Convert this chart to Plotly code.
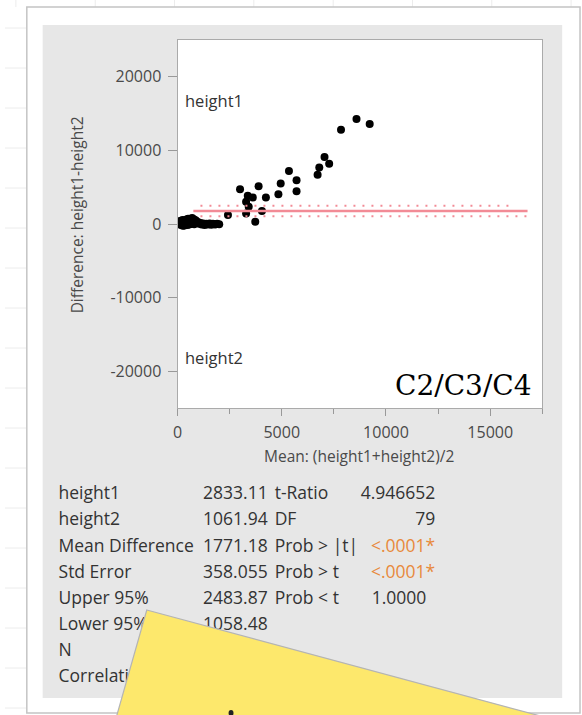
import plotly.graph_objects as go

W, H = 582, 715

# ---------------- data ----------------
cluster_mean = [60, 90, 120, 150, 170, 200, 220, 250, 280, 300,
                320, 350, 380, 400, 430, 460, 480, 510, 540, 570,
                600, 630, 660, 700, 740, 780, 820, 870, 920, 980,
                1040, 1100, 1160, 1230, 1300, 1380, 1460, 1540, 1620, 1700,
                1800, 1900, 2000, 110, 180, 240, 330, 410, 490, 560,
                650, 720, 800, 260, 360, 450, 540]
cluster_diff = [120, -50, 250, 80, 350, -100, 200, 420, 60, 300,
                150, 500, -80, 260, 620, 120, 380, 700, 230, 450,
                -30, 550, 300, 820, 400, 650, 200, 500, 150, 280,
                50, 120, -60, 80, -120, 30, -80, 60, -100, 20,
                -60, 40, -20, 400, -150, 550, -200, 100, -120, 600,
                100, 200, -50, -250, 200, -20, 350]
upper_mean = [8586, 9218, 7843, 7052, 7275, 6800, 6720, 5346, 5710, 5710,
              4950, 4840, 4240, 3890, 3000, 3370, 3610, 3290, 3415, 3290,
              4050, 3730, 2420]
upper_diff = [14280, 13600, 12800, 9100, 8200, 7660, 6700, 7200, 5950, 4460,
              5500, 4050, 3600, 5135, 4730, 3830, 3600, 3020, 2340, 1440,
              1760, 310, 1220]

mean_diff = 1771.18
upper95 = 2483.87
lower95 = 1058.48
line_x_solid = [760, 16790]
line_x_upper = [1100, 16120]
line_x_lower = [1100, 16790]

x_tickvals = [0, 5000, 10000, 15000]
x_ticktext = ["0", "5000", "10000", "15000"]
y_tickvals = [-20000, -10000, 0, 10000, 20000]
y_ticktext = ["-20000", "-10000", "0", "10000", "20000"]

stat_labels = ["height1", "height2", "Mean Difference", "Std Error",
               "Upper 95%", "Lower 95%", "N", "Correlation"]
stat_values = ["2833.11", "1061.94", "1771.18", "358.055",
               "2483.87", "1058.48", "80", ""]
test_labels = ["t-Ratio", "DF", "Prob > |t|", "Prob > t", "Prob < t"]
test_values = ["4.946652", "79", "<.0001*", "<.0001*", "1.0000"]
test_colors = ["#333333", "#333333", "#E8893C", "#E8893C", "#333333"]

# ---------------- layout helpers ----------------
def px(x):
    return x / W

def py(y):
    return 1 - y / H

PLOT_L, PLOT_R, PLOT_T, PLOT_B = 174, 542, 40, 408
FONT = "Open Sans, Noto Sans, sans-serif"
TXT = "#333333"
AX = "#4a4a4a"

fig = go.Figure()

# scatter points
fig.add_trace(go.Scatter(
    x=cluster_mean + upper_mean, y=cluster_diff + upper_diff,
    mode="markers", marker=dict(size=8, color="black"),
    xaxis="x", yaxis="y", showlegend=False, hoverinfo="skip"))

# reference lines
red = "#F28B96"
fig.add_trace(go.Scatter(x=line_x_solid, y=[mean_diff, mean_diff], mode="lines",
                         line=dict(color=red, width=2.5), showlegend=False,
                         xaxis="x", yaxis="y", hoverinfo="skip"))
fig.add_trace(go.Scatter(x=line_x_upper, y=[upper95, upper95], mode="lines",
                         line=dict(color=red, width=2, dash="2px,7px"), showlegend=False,
                         xaxis="x", yaxis="y", hoverinfo="skip"))
fig.add_trace(go.Scatter(x=line_x_lower, y=[lower95, lower95], mode="lines",
                         line=dict(color=red, width=2, dash="2px,7px"), showlegend=False,
                         xaxis="x", yaxis="y", hoverinfo="skip"))

# stats table as text traces on a pixel overlay axis
row_y = [495, 521, 547.5, 573.5, 600, 626, 652, 678]
fig.add_trace(go.Scatter(
    x=[54] * len(stat_labels), y=row_y[:len(stat_labels)], text=stat_labels,
    mode="text", textposition="middle right",
    textfont=dict(family=FONT, size=17.5, color=TXT),
    xaxis="x2", yaxis="y2", showlegend=False, hoverinfo="skip"))
fig.add_trace(go.Scatter(
    x=[265] * len(stat_values), y=row_y[:len(stat_values)], text=stat_values,
    mode="text", textposition="middle left",
    textfont=dict(family=FONT, size=17.5, color=TXT),
    xaxis="x2", yaxis="y2", showlegend=False, hoverinfo="skip"))
fig.add_trace(go.Scatter(
    x=[272] * len(test_labels), y=row_y[:len(test_labels)], text=test_labels,
    mode="text", textposition="middle right",
    textfont=dict(family=FONT, size=17.5, color=TXT),
    xaxis="x2", yaxis="y2", showlegend=False, hoverinfo="skip"))
fig.add_trace(go.Scatter(
    x=[434, 434, 434, 434, 425], y=row_y[:len(test_values)], text=test_values,
    mode="text", textposition="middle left",
    textfont=dict(family=FONT, size=17.5, color=test_colors),
    xaxis="x2", yaxis="y2", showlegend=False, hoverinfo="skip"))

shapes = []
# faint spreadsheet grid outside frame
for gy in range(28, 715, 40):
    shapes.append(dict(type="line", xref="paper", yref="paper",
                       x0=px(0), x1=px(22), y0=py(gy), y1=py(gy),
                       line=dict(color="#ececec", width=1), layer="below"))
for gx in range(11, 582, 80):
    shapes.append(dict(type="line", xref="paper", yref="paper",
                       x0=px(gx), x1=px(gx), y0=py(0), y1=py(7),
                       line=dict(color="#ececec", width=1), layer="below"))
# white frame
shapes.append(dict(type="rect", xref="paper", yref="paper",
                   x0=px(22), x1=px(580), y0=py(7), y1=py(713),
                   fillcolor="white", line=dict(color="#c4c4c4", width=1.5), layer="below"))
# gray panel
shapes.append(dict(type="rect", xref="paper", yref="paper",
                   x0=px(38), x1=px(562), y0=py(25), y1=py(698),
                   fillcolor="#e7e7e7", line=dict(width=0), layer="below"))
# plot area
shapes.append(dict(type="rect", xref="paper", yref="paper",
                   x0=px(PLOT_L), x1=px(PLOT_R), y0=py(PLOT_T), y1=py(PLOT_B),
                   fillcolor="white", line=dict(width=0), layer="below"))
# yellow sticky note
note = [(143, 610), (600, 732), (600, 760), (100, 760)]
path = "M " + " L ".join(f"{px(a)},{py(b)}" for a, b in note) + " Z"
shapes.append(dict(type="path", xref="paper", yref="paper", path=path,
                   fillcolor="#FDE86C", line=dict(color="#b4b4b4", width=1.2), layer="above"))
shapes.append(dict(type="circle", xref="paper", yref="paper",
                   x0=px(225.5), x1=px(230.5), y0=py(710), y1=py(716),
                   fillcolor="#222", line=dict(width=0), layer="above"))

annotations = [
    dict(text="height1", x=px(180), y=py(100), xref="paper", yref="paper",
         xanchor="left", yanchor="middle", showarrow=False,
         font=dict(family=FONT, size=16.5, color=TXT)),
    dict(text="height2", x=px(180), y=py(357), xref="paper", yref="paper",
         xanchor="left", yanchor="middle", showarrow=False,
         font=dict(family=FONT, size=16.5, color=TXT)),
    dict(text="C2/C3/C4", x=px(534), y=py(386), xref="paper", yref="paper",
         xanchor="right", yanchor="middle", showarrow=False,
         font=dict(family="DejaVu Serif, serif", size=28, color="black")),
    dict(text="Mean: (height1+height2)/2", x=px(357), y=py(456), xref="paper", yref="paper",
         xanchor="center", yanchor="middle", showarrow=False,
         font=dict(family=FONT, size=15.5, color=AX)),
    dict(text="Difference: height1-height2", x=px(73), y=py(215), xref="paper", yref="paper",
         xanchor="center", yanchor="middle", showarrow=False, textangle=-90,
         font=dict(family=FONT, size=15.5, color=AX)),
]

fig.update_layout(
    width=W, height=H, autosize=False,
    margin=dict(l=0, r=0, t=0, b=0, pad=0),
    paper_bgcolor="white", plot_bgcolor="rgba(0,0,0,0)",
    showlegend=False, shapes=shapes, annotations=annotations,
    xaxis=dict(domain=[px(PLOT_L), px(PLOT_R)], range=[0, 17500], anchor="y",
               tickvals=x_tickvals, ticktext=x_ticktext, ticks="outside", ticklen=7,
               tickcolor="#999", tickwidth=1, ticklabelstandoff=3,
               minor=dict(dtick=2500, tick0=0, ticks="outside", ticklen=5, tickcolor="#999", showgrid=False),
               showline=True, linecolor="#aaaaaa", linewidth=1, mirror=True,
               showgrid=False, zeroline=False, fixedrange=True,
               tickfont=dict(family=FONT, size=16, color=AX)),
    yaxis=dict(domain=[py(PLOT_B), py(PLOT_T)], range=[-25000, 25000], anchor="x",
               tickvals=y_tickvals, ticktext=y_ticktext, ticks="outside", ticklen=9,
               tickcolor="#999", tickwidth=1, ticklabelstandoff=3,
               showline=True, linecolor="#aaaaaa", linewidth=1, mirror=True,
               showgrid=False, zeroline=False, fixedrange=True,
               tickfont=dict(family=FONT, size=16, color=AX)),
    xaxis2=dict(domain=[0, 1], range=[0, W], anchor="y2", visible=False, fixedrange=True),
    yaxis2=dict(domain=[0, 1], range=[H, 0], anchor="x2", visible=False, fixedrange=True),
)

fig.write_html("out.html", config={"displayModeBar": False},
               post_script="document.body.style.margin='0';document.body.style.overflow='hidden';")
